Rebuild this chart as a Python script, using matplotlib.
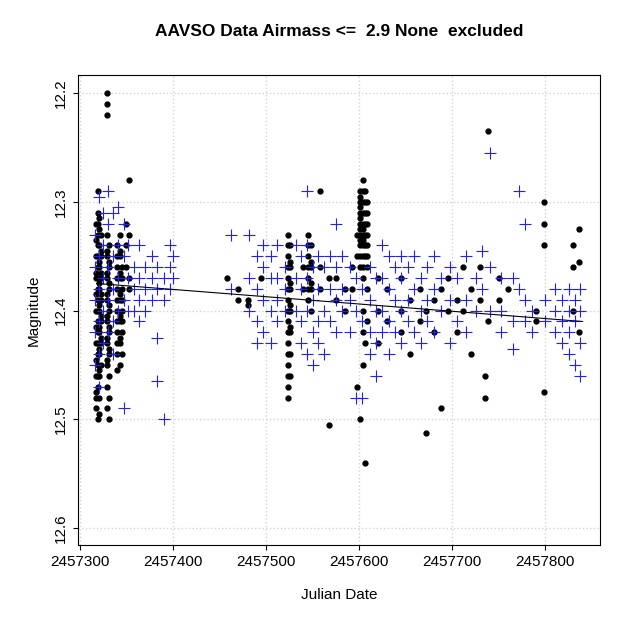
import numpy as np
import matplotlib.pyplot as plt

plt.rcParams['font.family'] = ['Liberation Sans', 'DejaVu Sans']

# black dots: (julian date, magnitudes observed that night)
black_cols = [
    (2457317, [12.32, 12.335, 12.35, 12.365, 12.37, 12.385, 12.40, 12.415, 12.43, 12.445, 12.46, 12.475, 12.48, 12.49]),
    (2457319, [12.29, 12.31, 12.32, 12.33, 12.34, 12.35, 12.36, 12.37, 12.38, 12.39, 12.40, 12.41, 12.42, 12.43, 12.44, 12.45, 12.46, 12.47, 12.50]),
    (2457321, [12.315, 12.325, 12.34, 12.355, 12.36, 12.375, 12.38, 12.395, 12.40, 12.415, 12.42, 12.435, 12.44, 12.455, 12.46, 12.48, 12.495]),
    (2457323, [12.33, 12.345, 12.35, 12.365, 12.37, 12.385, 12.39, 12.405, 12.41, 12.425, 12.43, 12.45]),
    (2457329, [12.20, 12.21, 12.22, 12.33, 12.345, 12.35, 12.365, 12.37, 12.385, 12.39, 12.405, 12.41, 12.425, 12.43, 12.445, 12.45, 12.47, 12.49]),
    (2457331, [12.34, 12.355, 12.36, 12.375, 12.38, 12.395, 12.40, 12.415, 12.42, 12.435, 12.44, 12.46, 12.48, 12.50]),
    (2457340, [12.34, 12.35, 12.36, 12.37, 12.38, 12.39, 12.40, 12.41, 12.42, 12.43, 12.44, 12.455]),
    (2457343, [12.33, 12.345, 12.35, 12.365, 12.37, 12.385, 12.39, 12.405, 12.41, 12.425, 12.43, 12.45]),
    (2457345, [12.36, 12.37, 12.38, 12.39, 12.40, 12.41, 12.42, 12.44]),
    (2457350, [12.32, 12.34, 12.36]),
    (2457353, [12.28, 12.33, 12.37, 12.38]),
    (2457458, [12.37]),
    (2457470, [12.38, 12.39]),
    (2457480, [12.39, 12.395]),
    (2457495, [12.37]),
    (2457524, [12.33, 12.34, 12.35, 12.36, 12.37, 12.38, 12.39, 12.40, 12.41, 12.42, 12.43, 12.44, 12.45, 12.46, 12.47, 12.48]),
    (2457526, [12.34, 12.355, 12.36, 12.375, 12.38, 12.395, 12.40, 12.415, 12.42, 12.44, 12.46]),
    (2457540, [12.36, 12.38]),
    (2457545, [12.33, 12.34, 12.35, 12.36, 12.37, 12.38, 12.39]),
    (2457548, [12.34, 12.355, 12.36, 12.375, 12.38, 12.40]),
    (2457558, [12.29, 12.36, 12.38]),
    (2457568, [12.505, 12.37]),
    (2457575, [12.37, 12.39]),
    (2457585, [12.38, 12.40]),
    (2457592, [12.36, 12.38]),
    (2457598, [12.47, 12.35, 12.33]),
    (2457601, [12.29, 12.295, 12.30, 12.305, 12.31, 12.315, 12.32, 12.325, 12.33, 12.335, 12.34, 12.35, 12.36, 12.50]),
    (2457604, [12.28, 12.29, 12.30, 12.31, 12.32, 12.325, 12.33, 12.335, 12.34, 12.35, 12.36, 12.37, 12.40, 12.42, 12.45]),
    (2457606, [12.29, 12.30, 12.31, 12.32, 12.33, 12.34, 12.35, 12.43, 12.54]),
    (2457608, [12.30, 12.31, 12.32, 12.33, 12.34, 12.35, 12.36, 12.38, 12.41]),
    (2457620, [12.37, 12.40, 12.43]),
    (2457630, [12.38, 12.41]),
    (2457645, [12.37, 12.40, 12.42]),
    (2457655, [12.39, 12.44]),
    (2457665, [12.38, 12.41]),
    (2457672, [12.513, 12.40]),
    (2457680, [12.39, 12.42]),
    (2457688, [12.49, 12.38]),
    (2457695, [12.40, 12.37]),
    (2457705, [12.39, 12.42]),
    (2457712, [12.36, 12.40]),
    (2457720, [12.38, 12.44]),
    (2457730, [12.36, 12.39]),
    (2457735, [12.48, 12.46]),
    (2457738, [12.235, 12.41]),
    (2457750, [12.37, 12.39]),
    (2457760, [12.38]),
    (2457790, [12.41, 12.40]),
    (2457799, [12.30, 12.32, 12.34, 12.475]),
    (2457830, [12.36, 12.34, 12.40]),
    (2457836, [12.325, 12.355, 12.42]),
]

# blue plus signs: (julian date, magnitudes)
blue_cols = [
    (2457316, [12.33, 12.36, 12.39, 12.42, 12.45]),
    (2457320, [12.295, 12.35, 12.38, 12.41, 12.44, 12.47]),
    (2457325, [12.31, 12.34, 12.37, 12.40, 12.43]),
    (2457330, [12.29, 12.32, 12.36, 12.39, 12.42]),
    (2457335, [12.31, 12.35, 12.38, 12.41, 12.44]),
    (2457341, [12.305, 12.34, 12.37, 12.40]),
    (2457347, [12.32, 12.35, 12.39, 12.49]),
    (2457352, [12.34, 12.37, 12.40]),
    (2457358, [12.36, 12.38, 12.40]),
    (2457363, [12.34, 12.37, 12.39, 12.41]),
    (2457370, [12.36, 12.38, 12.40]),
    (2457377, [12.35, 12.37, 12.39]),
    (2457383, [12.36, 12.38, 12.425, 12.465]),
    (2457390, [12.37, 12.39, 12.50]),
    (2457397, [12.34, 12.36, 12.38]),
    (2457400, [12.35, 12.37]),
    (2457462, [12.33, 12.38]),
    (2457482, [12.33, 12.37, 12.40]),
    (2457490, [12.35, 12.38, 12.41, 12.43]),
    (2457497, [12.34, 12.36, 12.39, 12.42]),
    (2457505, [12.35, 12.37, 12.40, 12.43]),
    (2457512, [12.34, 12.37, 12.39, 12.41]),
    (2457520, [12.36, 12.38, 12.40]),
    (2457532, [12.34, 12.37, 12.40]),
    (2457538, [12.35, 12.38, 12.41, 12.43]),
    (2457544, [12.29, 12.34, 12.37, 12.40, 12.44]),
    (2457550, [12.36, 12.39, 12.42, 12.45]),
    (2457556, [12.35, 12.38, 12.41, 12.43]),
    (2457562, [12.36, 12.40, 12.44]),
    (2457569, [12.35, 12.38, 12.41]),
    (2457575, [12.32, 12.36, 12.39, 12.42]),
    (2457582, [12.35, 12.38, 12.40]),
    (2457590, [12.36, 12.39, 12.42]),
    (2457597, [12.37, 12.40, 12.48]),
    (2457603, [12.38, 12.41, 12.48]),
    (2457612, [12.36, 12.39, 12.42, 12.44]),
    (2457618, [12.37, 12.40, 12.43, 12.46]),
    (2457625, [12.34, 12.37, 12.40, 12.42]),
    (2457632, [12.35, 12.38, 12.41, 12.44]),
    (2457638, [12.36, 12.39, 12.42]),
    (2457645, [12.35, 12.37, 12.40, 12.43]),
    (2457652, [12.36, 12.39, 12.41]),
    (2457659, [12.35, 12.38, 12.42]),
    (2457666, [12.37, 12.40, 12.43]),
    (2457673, [12.36, 12.39, 12.41]),
    (2457680, [12.35, 12.38, 12.42]),
    (2457688, [12.37, 12.40]),
    (2457697, [12.36, 12.39, 12.43]),
    (2457705, [12.37, 12.41]),
    (2457715, [12.35, 12.39, 12.42]),
    (2457725, [12.37, 12.40]),
    (2457732, [12.345, 12.38]),
    (2457740, [12.255, 12.36, 12.40]),
    (2457752, [12.37, 12.40, 12.42]),
    (2457765, [12.37, 12.41, 12.435]),
    (2457772, [12.29, 12.38]),
    (2457778, [12.32, 12.39, 12.41]),
    (2457786, [12.40, 12.42]),
    (2457800, [12.39, 12.41]),
    (2457810, [12.38, 12.40, 12.42]),
    (2457818, [12.39, 12.41, 12.43]),
    (2457825, [12.38, 12.40, 12.42, 12.44]),
    (2457832, [12.39, 12.41, 12.45]),
    (2457837, [12.38, 12.40, 12.43, 12.46]),
]

trend_x = [2457318, 2457840]
trend_y = [12.375, 12.41]

bx = [x for x, ys in black_cols for _ in ys]
by = [y for _, ys in black_cols for y in ys]
ux = [x for x, ys in blue_cols for _ in ys]
uy = [y for _, ys in blue_cols for y in ys]

fig = plt.figure(figsize=(6.4, 6.4), dpi=100)
ax = fig.add_axes([0.122, 0.148, 0.816, 0.735])
ax.plot(bx, by, 'o', color='black', markersize=3.5, zorder=3)
ax.plot(ux, uy, '+', color='#2020ff', markersize=8, markeredgewidth=0.8, zorder=4)
ax.plot(trend_x, trend_y, color='black', linewidth=0.8, zorder=5)

ax.set_xlim(2457298, 2457859)
ax.set_ylim(12.616, 12.183)
ax.set_xticks([2457300, 2457400, 2457500, 2457600, 2457700, 2457800])
ax.set_xticklabels(['2457300', '2457400', '2457500', '2457600', '2457700', '2457800'])
ax.set_yticks([12.2, 12.3, 12.4, 12.5, 12.6])
for lab in ax.get_yticklabels():
    lab.set_rotation(90)
    lab.set_va('center')
ax.tick_params(labelsize=11)
ax.grid(True, color='lightgray', linestyle=':', linewidth=1)
ax.set_axisbelow(True)
ax.set_xlabel('Julian Date', fontsize=11, labelpad=14)
ax.set_ylabel('Magnitude', fontsize=11, labelpad=10)
ax.set_title('AAVSO Data Airmass <=  2.9 None  excluded', fontsize=12.5, fontweight='bold', pad=28)

fig.savefig('out.png', dpi=100)
